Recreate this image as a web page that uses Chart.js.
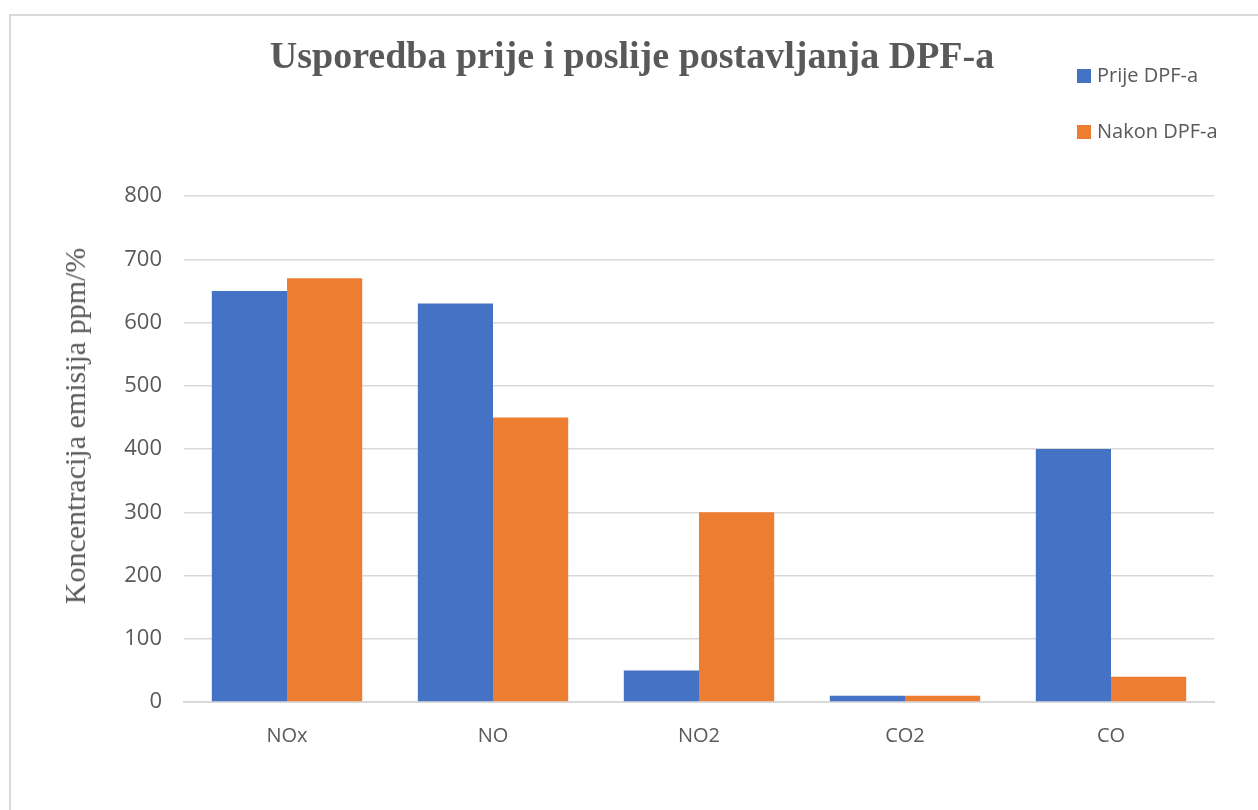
<!DOCTYPE html>
<html>
<head>
<meta charset="utf-8">
<script src="https://cdn.jsdelivr.net/npm/chart.js@4"></script>
<style>
  html, body { margin: 0; padding: 0; background: #fff; }
  #wrap { position: relative; width: 1258px; height: 810px; overflow: hidden; }
  #frame { position: absolute; left: 9px; top: 14px; width: 1300px; height: 900px; border-top: 2px solid #d9d9d9; border-left: 2px solid #d9d9d9; }
  #chart { position: absolute; left: 0; top: 0; }
  #title { position: absolute; left: 232px; width: 800px; top: 33px; text-align: center;
    font: bold 38px "Liberation Serif", "Times New Roman", serif; color: #595959; }
  #ytitle { position: absolute; left: 75px; top: 426px; transform: translate(-50%, -50%) rotate(-90deg);
    font: 30px "Liberation Serif", "Times New Roman", serif; color: #595959; white-space: nowrap; }
  .leg { position: absolute; left: 1077px; font: 20px "Open Sans", sans-serif; color: #595959; white-space: nowrap; line-height: 28px; }
  .leg i { display: inline-block; width: 14px; height: 14px; margin-right: 6px; vertical-align: -1px; }
</style>
</head>
<body>
<div id="wrap">
  <div id="frame"></div>
  <canvas id="chart" width="1258" height="810"></canvas>
  <div id="title">Usporedba prije i poslije postavljanja DPF-a</div>
  <div id="ytitle">Koncentracija emisija ppm/%</div>
  <div class="leg" style="top:61px"><i style="background:#4472C4"></i>Prije DPF-a</div>
  <div class="leg" style="top:117px"><i style="background:#ED7D31"></i>Nakon DPF-a</div>
</div>
<script>
/* ===== DPF emisije — bar chart ===== */
const kategorije = ['NOx', 'NO', 'NO2', 'CO2', 'CO'];
const prijeDPF = [650, 630, 50, 10, 400];
const nakonDPF = [670, 450, 300, 10, 40];
const yTicks = [0, 100, 200, 300, 400, 500, 600, 700, 800];

const txtColor = '#595959';
const gridColor = '#d9d9d9';

new Chart(document.getElementById('chart'), {
  type: 'bar',
  data: {
    labels: kategorije,
    datasets: [
      { label: 'Prije DPF-a', data: prijeDPF, backgroundColor: '#4472C4', categoryPercentage: 0.73, barPercentage: 1 },
      { label: 'Nakon DPF-a', data: nakonDPF, backgroundColor: '#ED7D31', categoryPercentage: 0.73, barPercentage: 1 }
    ]
  },
  options: {
    responsive: false,
    animation: false,
    layout: { padding: { left: 59, right: 44, top: 196, bottom: 38 } },
    plugins: { legend: { display: false }, title: { display: false }, tooltip: { enabled: false } },
    scales: {
      x: {
        grid: { display: false },
        border: { color: gridColor, width: 2 },
        ticks: { color: txtColor, padding: 14, font: { family: 'Open Sans', size: 20 } },
        afterFit: s => { s.height = 70; }
      },
      y: {
        min: 0, max: 800,
        afterBuildTicks: s => { s.ticks = yTicks.map(v => ({ value: v })); },
        grid: { color: gridColor, lineWidth: 1.5, drawTicks: false },
        border: { display: false },
        ticks: { color: txtColor, padding: 22, font: { family: 'Open Sans', size: 22 } },
        afterFit: s => { s.width = 125; }
      }
    }
  }
});
</script>
</body>
</html>
